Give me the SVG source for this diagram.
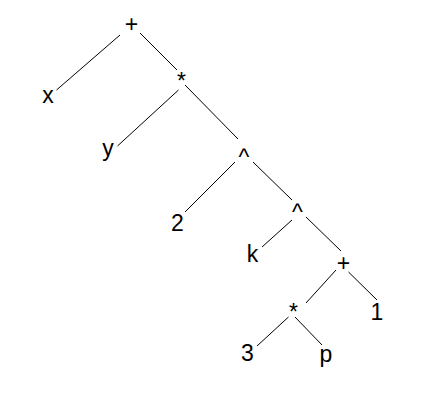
<svg xmlns="http://www.w3.org/2000/svg" width="441" height="400" viewBox="0 0 441 400">
<style>
text{font-family:"Liberation Sans",Arial,sans-serif;font-size:23px;fill:#000;text-anchor:middle}
#edges line{stroke:#000;stroke-width:1}
</style>
<rect width="441" height="400" fill="#fff"/>
<g id="edges">
<line x1="120" y1="35" x2="56.5" y2="90"/>
<line x1="140" y1="33" x2="177" y2="70"/>
<line x1="178.5" y1="90" x2="117.5" y2="146"/>
<line x1="185" y1="85" x2="238" y2="139"/>
<line x1="235" y1="162" x2="185" y2="212"/>
<line x1="253" y1="162" x2="292" y2="200"/>
<line x1="292" y1="220" x2="262" y2="247"/>
<line x1="306" y1="217" x2="341" y2="251"/>
<line x1="336" y1="270" x2="306" y2="303"/>
<line x1="348.5" y1="272" x2="377" y2="300"/>
<line x1="288.5" y1="317" x2="257" y2="346"/>
<line x1="295" y1="317" x2="322" y2="345"/>
</g>
<g id="n-plus1"><text x="131.5" y="32">+</text></g>
<g id="n-x"><text x="48" y="102.5">x</text></g>
<g id="n-star1"><text x="181.5" y="89">*</text></g>
<g id="n-y"><text x="108" y="156">y</text></g>
<g id="n-caret1"><text x="244" y="164.5">^</text></g>
<g id="n-2"><text x="177.5" y="230.5">2</text></g>
<g id="n-caret2"><text x="297.5" y="219.5">^</text></g>
<g id="n-k"><text x="252.5" y="262">k</text></g>
<g id="n-plus2"><text x="343.5" y="270.5">+</text></g>
<g id="n-star2"><text x="293.5" y="320">*</text></g>
<g id="n-1"><text x="377" y="320">1</text></g>
<g id="n-3"><text x="247.5" y="361">3</text></g>
<g id="n-p"><text x="326" y="362">p</text></g>
</svg>
